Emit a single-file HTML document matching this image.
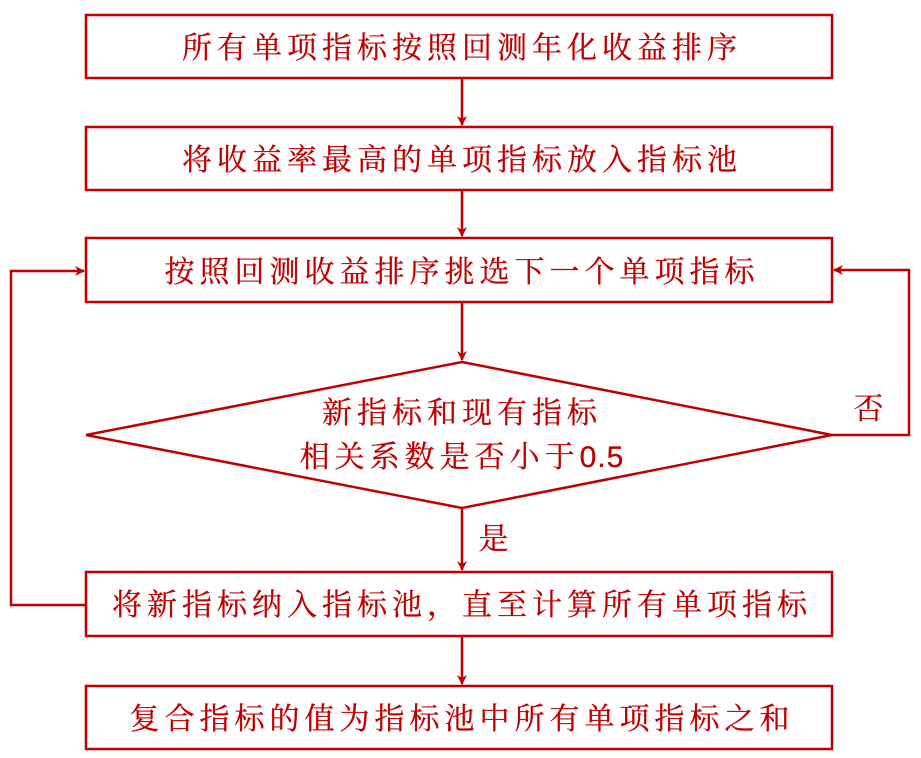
<!DOCTYPE html>
<html><head><meta charset="utf-8"><style>
body{margin:0;background:#fff;}
svg text{font-family:"Liberation Serif","Noto Serif CJK SC","Noto Sans CJK SC",serif;fill:#c00000;font-size:30px;text-anchor:middle;letter-spacing:5px;stroke:#c00000;stroke-width:0.3}
</style></head><body>
<svg width="921" height="753" viewBox="0 0 921 753" xmlns="http://www.w3.org/2000/svg">
<defs><marker id="a" markerWidth="10" markerHeight="10" refX="9" refY="5" orient="auto" markerUnits="userSpaceOnUse"><path d="M0,0 L10,5 L0,10 L3,5 Z" fill="#c00000"/></marker></defs>
<g fill="none" stroke="#c00000" stroke-width="2.5">
<rect x="86" y="15" width="746" height="63"/>
<rect x="86" y="127" width="746" height="63"/>
<rect x="86" y="238" width="746" height="64"/>
<polygon points="462,362 832,435 462,508 86,435"/>
<rect x="86" y="572" width="746" height="64"/>
<rect x="86" y="686" width="746" height="63"/>
<line x1="462" y1="78" x2="462" y2="125" marker-end="url(#a)"/>
<line x1="462" y1="190" x2="462" y2="236" marker-end="url(#a)"/>
<line x1="462" y1="302" x2="462" y2="360" marker-end="url(#a)"/>
<line x1="462" y1="508" x2="462" y2="570" marker-end="url(#a)"/>
<line x1="462" y1="636" x2="462" y2="684" marker-end="url(#a)"/>
<polyline points="86,605 11,605 11,271 84,271" marker-end="url(#a)"/>
<polyline points="832,435 909,435 909,270 834,270" marker-end="url(#a)"/>
</g>
<text x="462" y="58">所有单项指标按照回测年化收益排序</text>
<text x="462" y="170">将收益率最高的单项指标放入指标池</text>
<text x="462" y="282">按照回测收益排序挑选下一个单项指标</text>
<text x="462" y="423">新指标和现有指标</text>
<text x="462" y="467">相关系数是否小于<tspan font-family="Liberation Sans" letter-spacing="1">0.5</tspan></text>
<text x="496" y="549">是</text>
<text x="871" y="419">否</text>
<text x="462" y="615">将新指标纳入指标池，直至计算所有单项指标</text>
<text x="462" y="729">复合指标的值为指标池中所有单项指标之和</text>
</svg>
</body></html>
